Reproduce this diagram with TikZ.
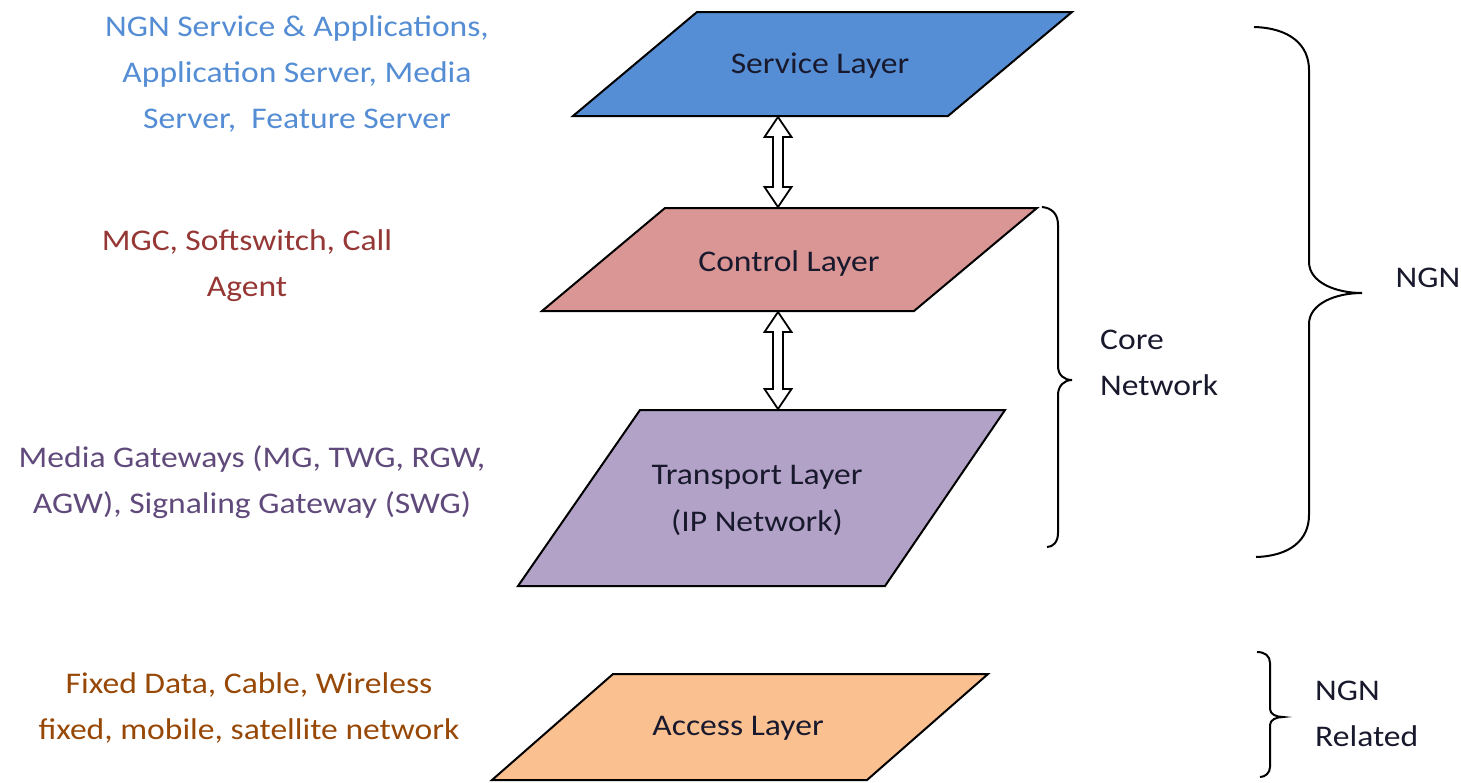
\documentclass[tikz,border=0pt]{standalone}
\usepackage{fontspec}
\setmainfont{Carlito}[FakeStretch=1.12]
\definecolor{svcfill}{RGB}{85,142,213}
\definecolor{ctlfill}{RGB}{217,150,148}
\definecolor{trpfill}{RGB}{178,162,199}
\definecolor{accfill}{RGB}{250,192,144}
\definecolor{txtblue}{RGB}{84,141,212}
\definecolor{txtred}{RGB}{149,55,53}
\definecolor{txtpurple}{RGB}{96,74,123}
\definecolor{txtorange}{RGB}{152,72,6}
\definecolor{txtdark}{RGB}{25,25,45}
\tikzset{
  layer/.style={draw=black, line width=2pt, line join=miter},
  lbl/.style={font=\fontsize{30}{47}\selectfont, align=center, inner sep=0pt, text=txtdark},
  side/.style={font=\fontsize{30}{46}\selectfont, align=center, inner sep=0pt},
  brc/.style={draw=black, line width=2pt},
  dbl/.style={draw=black, fill=white, line width=1.8pt, line join=miter}
}
\begin{document}
\begin{tikzpicture}[x=1pt,y=-1pt]
\useasboundingbox (0,0) rectangle (1461,782);
% layers
\draw[layer, fill=svcfill] (697,12) -- (1072,12) -- (948,116) -- (573,116) -- cycle;
\draw[layer, fill=ctlfill] (665,208) -- (1037,208) -- (914,311) -- (542,311) -- cycle;
\draw[layer, fill=trpfill] (640,410) -- (1005,410) -- (885,586) -- (518,586) -- cycle;
\draw[layer, fill=accfill] (613,674) -- (988,674) -- (867,780) -- (492,780) -- cycle;
% double arrows
\draw[dbl] (778,117) -- (791.5,137) -- (783,137) -- (783,187) -- (791.5,187) -- (778,207)
  -- (764.5,187) -- (773,187) -- (773,137) -- (764.5,137) -- cycle;
\draw[dbl] (778,312) -- (791.5,332) -- (783,332) -- (783,389) -- (791.5,389) -- (778,409)
  -- (764.5,389) -- (773,389) -- (773,332) -- (764.5,332) -- cycle;
% layer labels
\node[lbl] (svc) at (820,66) {Service Layer};
\node[lbl] (ctl) at (789,263) {Control Layer};
\node[lbl] (trp) at (757,500) {Transport Layer\\(IP Network)};
\node[lbl] (acc) at (738,728) {Access Layer};
% side descriptions
\node[side, text=txtblue] (d1) at (297,74) {NGN Service \& Applications,\\Application Server, Media\\Server,\ \ Feature Server};
\node[side, text=txtred] (d2) at (247,266) {MGC, Softswitch, Call\\Agent};
\node[side, text=txtpurple] (d3) at (252,482) {Media Gateways (MG, TWG, RGW,\\AGW), Signaling Gateway (SWG)};
\node[side, text=txtorange] (d4) at (249,708) {Fixed Data, Cable, Wireless\\fixed, mobile, satellite network};
% braces
\draw[brc] (1042,207) .. controls (1052,208) and (1058,214) .. (1058,225) -- (1058,366)
  .. controls (1058,375) and (1064,380) .. (1072,380)
  .. controls (1064,380) and (1058,386) .. (1058,395) -- (1058,533)
  .. controls (1058,542) and (1053,547) .. (1047,547);
\draw[brc] (1254,27) .. controls (1290,28) and (1309,45) .. (1309,70) -- (1309,262)
  .. controls (1309,282) and (1335,293) .. (1362,293)
  .. controls (1335,293) and (1309,304) .. (1309,324) -- (1309,515)
  .. controls (1309,540) and (1290,556) .. (1256,557);
\draw[brc] (1257,652) .. controls (1265,652) and (1270,656) .. (1270,663) -- (1270,709)
  .. controls (1270,714) and (1276,717) .. (1283,717)
  .. controls (1276,717) and (1270,720) .. (1270,725) -- (1270,767)
  .. controls (1270,773) and (1265,777) .. (1260,777);
% brace labels
\node[side, align=left, anchor=west, text=txtdark] (core) at (1100,363) {Core\\Network};
\node[side, text=txtdark] (ngn) at (1428,278) {NGN};
\node[side, align=left, anchor=west, text=txtdark] (rel) at (1315,714) {NGN\\Related};
\end{tikzpicture}
\end{document}
